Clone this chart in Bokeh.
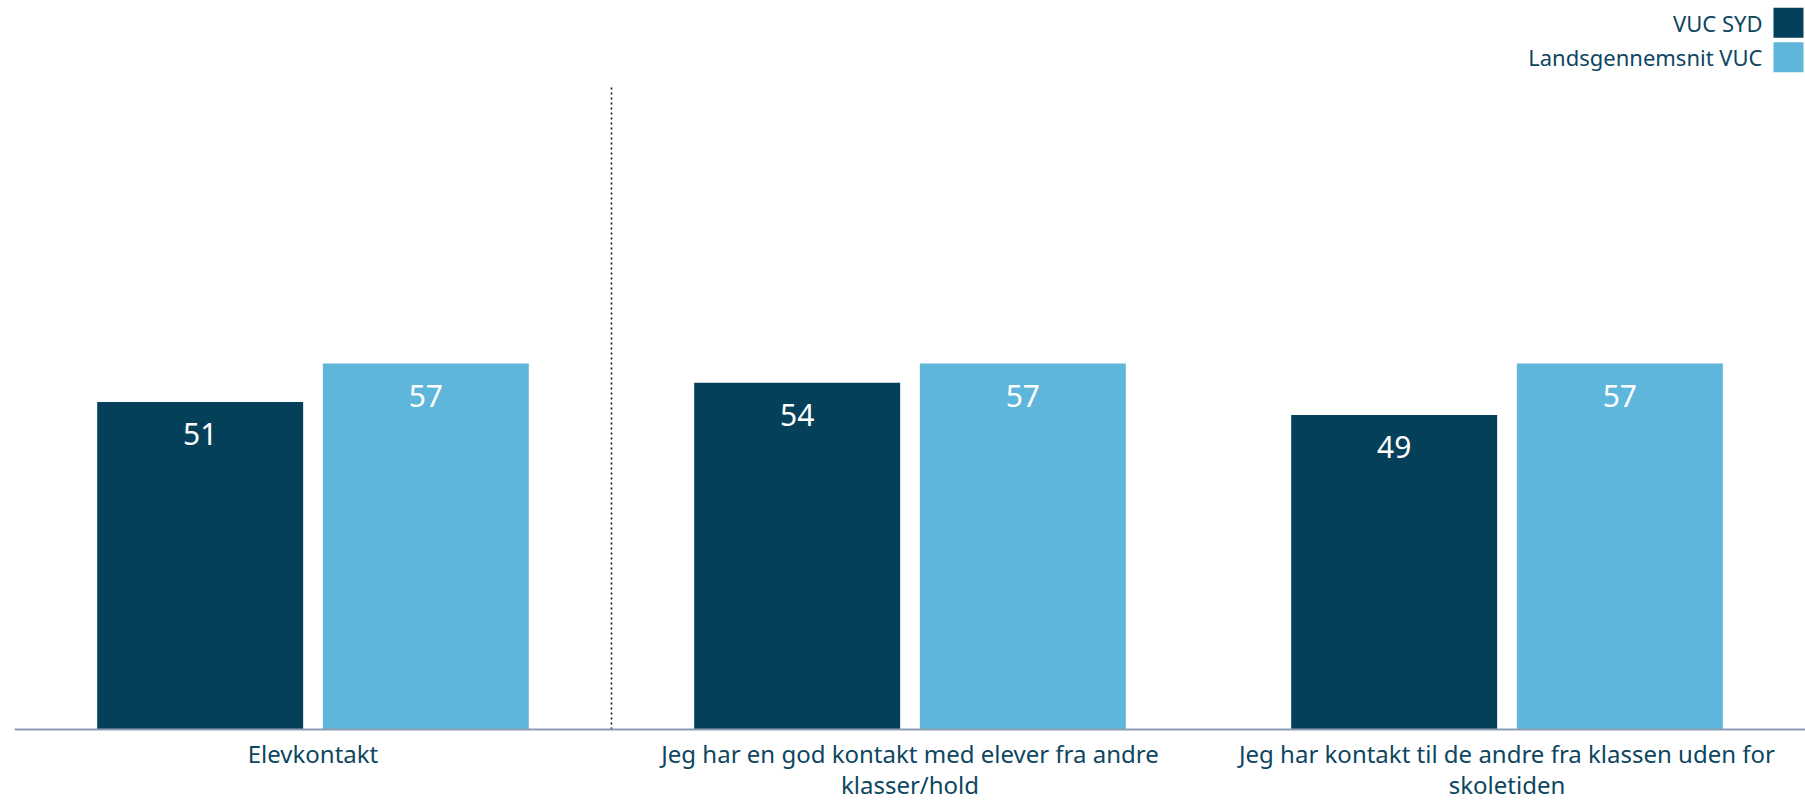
from bokeh.plotting import figure
from bokeh.models import FactorRange, Range1d, ColumnDataSource, Span
from bokeh.transform import dodge
from bokeh.core.properties import value
from bokeh.embed import file_html
from bokeh.resources import INLINE

# ---- data ----
categories = [
    "Elevkontakt",
    "Jeg har en god kontakt med elever fra andre klasser/hold",
    "Jeg har kontakt til de andre fra klassen uden for skoletiden",
]
category_labels = [
    "Elevkontakt",
    "Jeg har en god kontakt med elever fra andre\nklasser/hold",
    "Jeg har kontakt til de andre fra klassen uden for\nskoletiden",
]
series = ["VUC SYD", "Landsgennemsnit VUC"]
vuc_syd = [51, 54, 49]
landsgennemsnit = [57, 57, 57]

# ---- style ----
DARK = "#04405A"
LIGHT = "#5EB6DB"
TEXT = "#0D4660"
FONT = "Noto Sans"
Y_START, Y_END = -11.21, 113.55
BAR_W = 0.345
OFFSET = 0.189

src = ColumnDataSource(dict(cat=categories, lab=category_labels,
                            syd=vuc_syd, land=landsgennemsnit,
                            zero=[0] * len(categories),
                            syd_t=[str(v) for v in vuc_syd],
                            land_t=[str(v) for v in landsgennemsnit]))

p = figure(x_range=FactorRange(*categories), y_range=Range1d(Y_START, Y_END),
           width=1805, height=801, output_backend="svg", toolbar_location=None,
           min_border_left=14, min_border_right=0, min_border_top=0, min_border_bottom=0)
p.outline_line_color = None
p.grid.visible = False
p.axis.visible = False
p.background_fill_color = "white"
p.border_fill_color = "white"

p.vbar(x=dodge("cat", -OFFSET, range=p.x_range), top="syd", width=BAR_W, source=src,
       fill_color=DARK, line_color=None)
p.vbar(x=dodge("cat", OFFSET, range=p.x_range), top="land", width=BAR_W, source=src,
       fill_color=LIGHT, line_color=None)

for key, off in (("syd", -OFFSET), ("land", OFFSET)):
    p.text(x=dodge("cat", off, range=p.x_range), y=key, text=key + "_t", source=src,
           y_offset=32, text_align="center", text_baseline="middle",
           text_color="white", text_font=value(FONT), text_font_size="30px")

# baseline (category axis line)
p.add_layout(Span(location=0, dimension="width", line_color="#8C9DB3", line_width=2))

# category labels under the axis line
p.text(x="cat", y="zero", text="lab", source=src, y_offset=7,
       text_align="center", text_baseline="top", text_line_height=0.95,
       text_color=TEXT, text_font=value(FONT), text_font_size="24px")

# separator between overall index and the items
p.segment(x0=[1.0], y0=[0], x1=[1.0], y1=[100], line_color="#111111",
          line_width=1.6, line_dash="2 3")

# legend (text left, square right)
leg_y = [110.1, 104.7]
p.scatter(x=[2.9715, 2.9715], y=leg_y, marker="square", size=30,
          fill_color=[DARK, LIGHT], line_color=None)
p.text(x=[2.928, 2.928], y=leg_y, text=series, text_align="right",
       text_baseline="middle", text_color=TEXT, text_font=value(FONT),
       text_font_size="22px")

open("out.html", "w").write(file_html(p, INLINE))
